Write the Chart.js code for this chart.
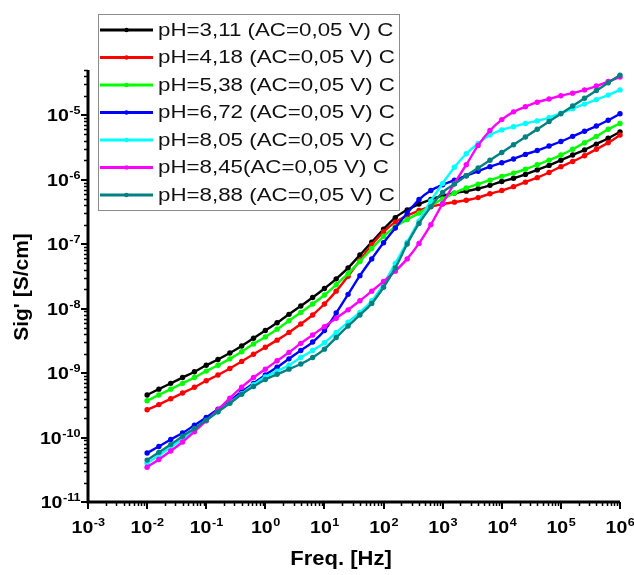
<!DOCTYPE html>
<html>
<head>
<meta charset="utf-8">
<script src="https://cdn.jsdelivr.net/npm/chart.js@4"></script>
<style>
body { margin: 0; background: #fff; }
canvas { display: block; }
</style>
</head>
<body>
<canvas id="sigChart" width="634" height="575"></canvas>
<script>
// frequency points (Hz), 5 per decade
const freqHz = [0.01, 0.0158, 0.0251, 0.0398, 0.0631, 0.1, 0.158, 0.251, 0.398, 0.631,
    1, 1.58, 2.51, 3.98, 6.31, 10, 15.8, 25.1, 39.8, 63.1,
    100, 158, 251, 398, 631, 1000, 1580, 2510, 3980, 6310,
    10000, 15800, 25100, 39800, 63100, 100000, 158000, 251000, 398000, 631000, 1000000];

// log10 of Sig' [S/cm]
const logSig_pH311 = [-9.34, -9.25, -9.16, -9.07, -8.98, -8.88, -8.79, -8.69, -8.58, -8.46,
    -8.34, -8.22, -8.09, -7.96, -7.83, -7.69, -7.54, -7.37, -7.17, -6.97,
    -6.77, -6.59, -6.47, -6.38, -6.31, -6.25, -6.21, -6.18, -6.14, -6.09,
    -6.03, -5.98, -5.92, -5.85, -5.78, -5.70, -5.62, -5.54, -5.45, -5.36, -5.26];
const logSig_pH418 = [-9.57, -9.49, -9.40, -9.31, -9.22, -9.12, -9.03, -8.93, -8.82, -8.71,
    -8.60, -8.49, -8.37, -8.24, -8.10, -7.93, -7.73, -7.50, -7.25, -7.01,
    -6.81, -6.66, -6.56, -6.48, -6.42, -6.38, -6.35, -6.32, -6.28, -6.22,
    -6.17, -6.11, -6.04, -5.97, -5.89, -5.80, -5.72, -5.63, -5.53, -5.43, -5.31];
const logSig_pH538 = [-9.43, -9.34, -9.25, -9.16, -9.07, -8.97, -8.88, -8.78, -8.67, -8.55,
    -8.44, -8.32, -8.19, -8.06, -7.93, -7.79, -7.63, -7.46, -7.27, -7.07,
    -6.88, -6.73, -6.62, -6.52, -6.41, -6.30, -6.21, -6.13, -6.07, -6.01,
    -5.95, -5.90, -5.84, -5.77, -5.70, -5.62, -5.53, -5.43, -5.33, -5.22, -5.13];
const logSig_pH672 = [-10.24, -10.14, -10.03, -9.93, -9.81, -9.69, -9.56, -9.43, -9.29, -9.16,
    -9.03, -8.91, -8.78, -8.65, -8.52, -8.34, -8.07, -7.78, -7.49, -7.23,
    -6.98, -6.75, -6.52, -6.31, -6.17, -6.08, -6.01, -5.94, -5.87, -5.80,
    -5.74, -5.68, -5.61, -5.55, -5.48, -5.41, -5.33, -5.25, -5.17, -5.08, -4.98];
const logSig_pH805 = [-10.40, -10.28, -10.15, -10.02, -9.88, -9.74, -9.60, -9.46, -9.32, -9.18,
    -9.06, -8.97, -8.88, -8.76, -8.65, -8.53, -8.37, -8.21, -8.06, -7.88,
    -7.62, -7.30, -6.97, -6.64, -6.33, -6.06, -5.81, -5.60, -5.44, -5.31,
    -5.23, -5.18, -5.13, -5.09, -5.04, -4.97, -4.90, -4.83, -4.76, -4.69, -4.61];
const logSig_pH845 = [-10.46, -10.34, -10.21, -10.07, -9.91, -9.74, -9.57, -9.39, -9.22, -9.07,
    -8.94, -8.81, -8.68, -8.54, -8.41, -8.28, -8.15, -8.02, -7.88, -7.73,
    -7.58, -7.42, -7.23, -6.99, -6.70, -6.37, -6.06, -5.77, -5.47, -5.24,
    -5.07, -4.95, -4.87, -4.80, -4.75, -4.70, -4.66, -4.61, -4.55, -4.48, -4.41];
const logSig_pH888 = [-10.35, -10.23, -10.11, -9.98, -9.86, -9.73, -9.60, -9.47, -9.33, -9.21,
    -9.10, -9.02, -8.94, -8.86, -8.76, -8.63, -8.45, -8.27, -8.10, -7.92,
    -7.67, -7.37, -7.00, -6.68, -6.42, -6.20, -6.07, -5.94, -5.82, -5.70,
    -5.58, -5.46, -5.34, -5.22, -5.10, -4.98, -4.86, -4.74, -4.62, -4.50, -4.38];

const seriesLabels = [
    'pH=3,11 (AC=0,05 V) C',
    'pH=4,18 (AC=0,05 V) C',
    'pH=5,38 (AC=0,05 V) C',
    'pH=6,72 (AC=0,05 V) C',
    'pH=8,05 (AC=0,05 V) C',
    'pH=8,45(AC=0,05 V) C',
    'pH=8,88 (AC=0,05 V) C'
];
const seriesColors = ['#000000', '#ff0000', '#00ff00', '#0000ff', '#00ffff', '#ff00ff', '#008080'];
const seriesValues = [logSig_pH311, logSig_pH418, logSig_pH538, logSig_pH672, logSig_pH805, logSig_pH845, logSig_pH888];

// axis decades that get a 10^n label
const xTickExps = [-3, -2, -1, 0, 1, 2, 3, 4, 5, 6];
const yTickExps = [-11, -10, -9, -8, -7, -6, -5];
const xTitle = 'Freq. [Hz]';
const yTitle = "Sig' [S/cm]";

const FONT = "'Liberation Sans', Arial, sans-serif";

function stretchText(ctx, txt, x, y, sx) {
    ctx.save();
    ctx.translate(x, y);
    ctx.scale(sx, 1);
    ctx.fillText(txt, 0, 0);
    ctx.restore();
}

// "10" with a raised exponent
function drawPow(ctx, exp, x, y, mode) {
    const sx = 1.15;
    const expTxt = String(exp);
    ctx.font = 'bold 17px ' + FONT;
    const w1 = ctx.measureText('10').width * sx;
    ctx.font = 'bold 11px ' + FONT;
    const w2 = ctx.measureText(expTxt).width * sx;
    let left, base;
    if (mode === 'x') {
        left = x - (w1 + w2) / 2;
        base = y;
    } else {
        left = x - (w1 + w2);
        base = y + 6;
    }
    ctx.textAlign = 'left';
    ctx.textBaseline = 'alphabetic';
    ctx.font = 'bold 17px ' + FONT;
    stretchText(ctx, '10', left, base, sx);
    ctx.font = 'bold 11px ' + FONT;
    stretchText(ctx, expTxt, left + w1 + 0.5, base - 7, sx);
}

const originAxes = {
    id: 'originAxes',
    afterDraw(chart) {
        const ctx = chart.ctx;
        const a = chart.chartArea;
        const xs = chart.scales.x;
        const ys = chart.scales.y;
        ctx.save();
        ctx.strokeStyle = '#000';
        ctx.fillStyle = '#000';
        ctx.lineCap = 'butt';

        // minor ticks
        ctx.lineWidth = 1.5;
        ctx.beginPath();
        for (let e = xTickExps[0]; e < xTickExps[xTickExps.length - 1]; e++) {
            for (let k = 2; k <= 9; k++) {
                const px = Math.round(xs.getPixelForValue(k * Math.pow(10, e))) + 0.5;
                ctx.moveTo(px, a.bottom);
                ctx.lineTo(px, a.bottom + 4);
            }
        }
        for (let e = yTickExps[0]; e <= yTickExps[yTickExps.length - 1]; e++) {
            for (let k = 2; k <= 9; k++) {
                const v = k * Math.pow(10, e);
                if (v > ys.max) continue;
                const py = Math.round(ys.getPixelForValue(v)) + 0.5;
                ctx.moveTo(a.left, py);
                ctx.lineTo(a.left - 4, py);
            }
        }
        ctx.stroke();

        // major ticks
        ctx.lineWidth = 2;
        ctx.beginPath();
        xTickExps.forEach(e => {
            const px = Math.round(xs.getPixelForValue(Math.pow(10, e)));
            ctx.moveTo(px, a.bottom);
            ctx.lineTo(px, a.bottom + 7);
        });
        yTickExps.forEach(e => {
            const py = Math.round(ys.getPixelForValue(Math.pow(10, e)));
            ctx.moveTo(a.left, py);
            ctx.lineTo(a.left - 7, py);
        });
        ctx.stroke();

        // axis lines
        ctx.lineWidth = 3;
        ctx.beginPath();
        ctx.moveTo(a.left, a.top);
        ctx.lineTo(a.left, a.bottom + 1.5);
        ctx.moveTo(a.left - 1.5, a.bottom);
        ctx.lineTo(a.right, a.bottom);
        ctx.stroke();

        // tick labels
        xTickExps.forEach(e => drawPow(ctx, e, xs.getPixelForValue(Math.pow(10, e)), a.bottom + 31, 'x'));
        yTickExps.forEach(e => drawPow(ctx, e, a.left - 8, ys.getPixelForValue(Math.pow(10, e)), 'y'));

        // axis titles
        ctx.font = 'bold 20px ' + FONT;
        ctx.textAlign = 'center';
        ctx.textBaseline = 'middle';
        stretchText(ctx, xTitle, 341, 559, 1.1);
        ctx.save();
        ctx.translate(22, 287);
        ctx.rotate(-Math.PI / 2);
        ctx.font = 'bold 21px ' + FONT;
        ctx.fillText(yTitle, 0, 0);
        ctx.restore();

        // legend box
        const lx = 98, ly = 14, lw = 301, lh = 196;
        ctx.fillStyle = '#fff';
        ctx.fillRect(lx, ly, lw, lh);
        ctx.strokeStyle = '#8c8c8c';
        ctx.lineWidth = 1;
        ctx.strokeRect(lx + 0.5, ly + 0.5, lw, lh);
        ctx.font = '18px ' + FONT;
        ctx.textAlign = 'left';
        ctx.textBaseline = 'middle';
        seriesLabels.forEach((lab, i) => {
            const cy = 30 + i * 27.5;
            ctx.strokeStyle = seriesColors[i];
            ctx.lineWidth = 3;
            ctx.beginPath();
            ctx.moveTo(100, cy);
            ctx.lineTo(153, cy);
            ctx.stroke();
            ctx.fillStyle = seriesColors[i];
            ctx.beginPath();
            ctx.arc(126.5, cy, 2.2, 0, Math.PI * 2);
            ctx.fill();
            ctx.fillStyle = '#111';
            stretchText(ctx, lab, 158, cy + 1, 1.24);
        });
        ctx.restore();
    }
};

const datasets = seriesValues.map((vals, i) => ({
    label: seriesLabels[i],
    data: freqHz.map((f, j) => ({ x: f, y: Math.pow(10, vals[j]) })),
    borderColor: seriesColors[i],
    backgroundColor: seriesColors[i],
    borderWidth: 2.4,
    pointRadius: 2.7,
    pointBorderWidth: 0,
    pointHoverRadius: 2.7,
    cubicInterpolationMode: 'monotone',
    clip: false,
    order: seriesValues.length - i
}));

new Chart(document.getElementById('sigChart'), {
    type: 'line',
    data: { datasets: datasets },
    options: {
        responsive: false,
        animation: false,
        layout: { padding: { left: 88, right: 14, top: 70, bottom: 73 } },
        plugins: {
            legend: { display: false },
            tooltip: { enabled: false }
        },
        scales: {
            x: { type: 'logarithmic', min: 1e-3, max: 1e6, display: false },
            y: { type: 'logarithmic', min: 1e-11, max: 5e-5, display: false }
        }
    },
    plugins: [originAxes]
});
</script>
</body>
</html>
